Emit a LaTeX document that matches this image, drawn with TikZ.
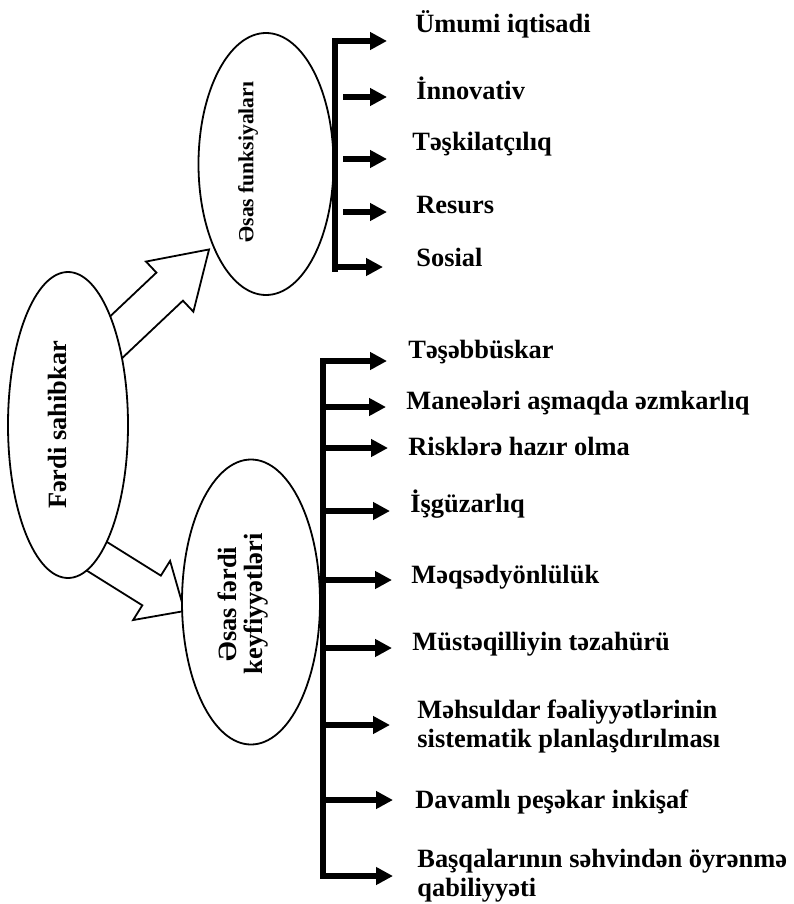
\documentclass[tikz,border=0pt]{standalone}
\usepackage{fontspec}
\setmainfont{Liberation Serif}
\usepackage{tikz}
\usetikzlibrary{shapes,arrows.meta,positioning,calc}

\tikzset{
  oval/.style={draw, fill=white, ellipse, line width=0.9pt, inner sep=0pt},
  ovaltext/.style={rotate=90, inner sep=0pt, align=center, font=\bfseries\fontsize{13.2}{13}\selectfont},
  lbl/.style={anchor=base west, inner sep=0pt, align=left, font=\bfseries\fontsize{13.2}{14.5}\selectfont},
  bar/.style={line width=3.2pt},
  pil/.style={line width=2.6pt, -{Triangle[length=8.5pt,width=8.5pt]}},
  hollow/.style={draw, line width=0.9pt, single arrow, inner xsep=0pt, single arrow head indent=0pt, sloped, pos=0, anchor=tail},
}

\begin{document}
\begin{tikzpicture}[x=0.5pt, y=-0.5pt]
    \useasboundingbox (0,0) rectangle (793,904);
    % Ovals (positions only, drawn after the arrows)
    \coordinate (fsc) at (68,425);
    \coordinate (funkc) at (266,164);
    \coordinate (kedc) at (251,602);
    \path (fsc) node[ellipse, inner sep=0pt, minimum width=60pt, minimum height=153pt] (fsb) {};
    \path (funkc) node[ellipse, inner sep=0pt, minimum width=67.5pt, minimum height=131pt] (funkb) {};
    \path (kedc) node[ellipse, inner sep=0pt, minimum width=69pt, minimum height=142.5pt] (kedb) {};

    % Hollow arrows
    \path ($(fsb.61.5)!-6pt!(funkb.237.5)$) -- node[hollow, minimum height=68.7pt, inner ysep=9.2pt, single arrow head extend=7.6pt, single arrow tip angle=65] (uparr) {} (funkb.237.5);
    \path ($(fsb.283.4)!-3pt!(kedb.186.7)$) -- node[hollow, minimum height=53.2pt, inner ysep=8.3pt, single arrow head extend=8.7pt, single arrow tip angle=84] (downarr) {} (kedb.186.7);

    \node[oval, minimum width=60pt, minimum height=153pt] (fs) at (fsc) {};
    \node[ovaltext] (fstext) at ([xshift=-5.5pt]fs.center) {Fərdi sahibkar};
    \node[oval, minimum width=67.5pt, minimum height=131pt] (funk) at (funkc) {};
    \node[ovaltext, font=\bfseries\fontsize{10.8}{12}\selectfont] (funktext) at ([xshift=-9pt,yshift=1pt]funk.center) {Əsas funksiyaları};
    \node[oval, minimum width=69pt, minimum height=142.5pt] (ked) at (kedc) {};
    \node[ovaltext] (kedtext) at ([xshift=-4pt,yshift=-1pt]ked.center) {Əsas fərdi\\keyfiyyətləri};

    % Functions
    \coordinate (fbar1) at (335,38);
    \coordinate (fbar2) at (335,272);
    \draw[bar] (fbar1) -- (fbar2);
    \foreach \i/\x/\y in {1/387/41, 2/387/97, 3/387/159, 4/387/212, 5/383/267}
        \coordinate (f\i) at (\x,\y);
    \foreach \i in {1,5}
        \draw[pil] (f\i -| fbar1) -- (f\i);
    \foreach \i in {2,3,4}
        \draw[pil, shorten <=4pt] (f\i -| fbar1) -- (f\i);
    \node[lbl] (fl1) at (415,33) {Ümumi iqtisadi};
    \node[lbl] (fl2) at (416,99) {İnnovativ};
    \node[lbl] (fl3) at (412,150) {Təşkilatçılıq};
    \node[lbl] (fl4) at (416,213) {Resurs};
    \node[lbl] (fl5) at (416,266) {Sosial};

    % Qualities
    \coordinate (kbar1) at (323,358);
    \coordinate (kbar2) at (323,879);
    \draw[bar] (kbar1) -- (kbar2);
    \foreach \i/\x/\y in {1/387/361, 2/386/407, 3/388/448, 4/390/511, 5/392/580, 6/392/648, 7/390/725, 8/393/800, 9/393/876}
        \coordinate (k\i) at (\x,\y);
    \foreach \i in {1,...,9}
        \draw[pil] (k\i -| kbar1) -- (k\i);
    \node[lbl] (kl1) at (408,358) {Təşəbbüskar};
    \node[lbl] (kl2) at (406,409) {Maneələri aşmaqda əzmkarlıq};
    \node[lbl] (kl3) at (408,455) {Risklərə hazır olma};
    \node[lbl] (kl4) at (410,512) {İşgüzarlıq};
    \node[lbl] (kl5) at (411,583) {Məqsədyönlülük};
    \node[lbl] (kl6) at (412,650) {Müstəqilliyin təzahürü};
    \node[lbl, anchor=west] (kl7) at (417,727) {Məhsuldar fəaliyyətlərinin\\sistematik planlaşdırılması};
    \node[lbl] (kl8) at (415,808) {Davamlı peşəkar inkişaf};
    \node[lbl, anchor=west] (kl9) at (417,876) {Başqalarının səhvindən öyrənmə\\qabiliyyəti};
\end{tikzpicture}
\end{document}
